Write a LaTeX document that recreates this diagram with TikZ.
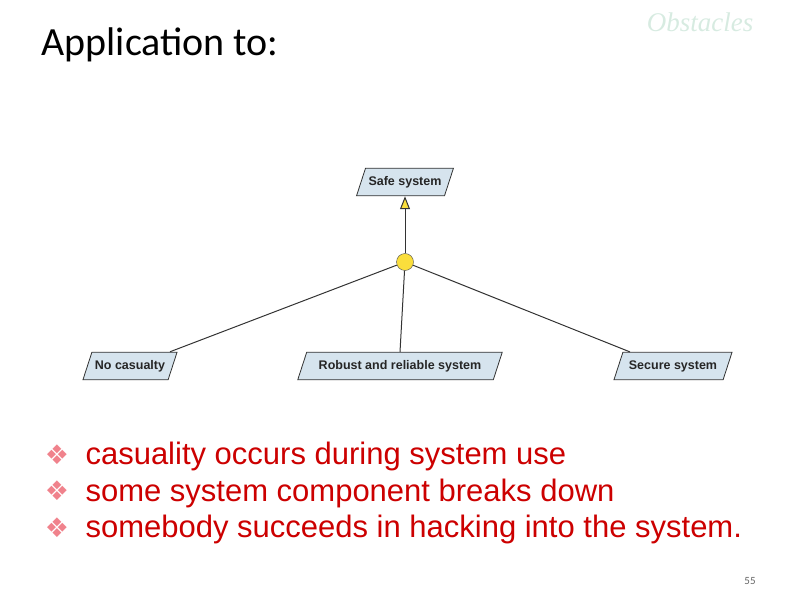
\documentclass[tikz,border=0pt]{standalone}
\usepackage{fontspec}
\setmainfont{Liberation Sans}
\newfontfamily\calibri{Carlito}
\newfontfamily\timesfont{Liberation Serif}
\newfontfamily\symfont{DejaVu Sans}
\usetikzlibrary{shapes.geometric,arrows.meta}
\definecolor{goalblue}{RGB}{214,228,238}
\definecolor{andyellow}{RGB}{250,222,60}
\definecolor{bulletred}{RGB}{204,0,0}
\definecolor{bulletpink}{RGB}{240,130,140}
\definecolor{paleteal}{RGB}{215,235,225}
\tikzset{
  goal/.style={trapezium, trapezium left angle=72, trapezium right angle=108,
    draw=black!80, fill=goalblue, thick, inner ysep=8pt, inner xsep=3pt,
    font=\fontsize{12.5}{14}\selectfont\bfseries, text=black!85},
  refine/.style={circle, draw=black!70, fill=andyellow, minimum size=17pt, inner sep=0pt},
  bullet/.style={anchor=west, text=bulletred, font=\fontsize{31}{34}\selectfont}
}
\begin{document}
\begin{tikzpicture}[x=1pt,y=-1pt]
  \useasboundingbox (0,0) rectangle (792,612);
  \node[anchor=west, font=\calibri\fontsize{40}{44}\selectfont] (title) at (38,45) {Application to:};
  \node[font=\timesfont\itshape\fontsize{27}{30}\selectfont, text=paleteal] (obst) at (700,22) {Obstacles};
  \node[goal] (safe) at (405,182) {Safe system};
  \node[refine] (and) at (405,262) {};
  \node[goal] (nocas) at (130,366) {No casualty};
  \node[goal, inner xsep=12pt] (robust) at (400,366) {Robust and reliable system};
  \node[goal, inner xsep=6pt] (secure) at (673,366) {Secure system};
  \draw[line width=1pt, black!80, -{Triangle[open, fill=andyellow, length=13pt, width=10pt]}] (and) -- (safe);
  \draw[line width=1pt, black!80] (nocas.north) ++(40pt,0) -- (and);
  \draw[line width=1pt, black!80] (robust.north) -- (and);
  \draw[line width=1pt, black!80] (secure.north) ++(-43pt,0) -- (and);
  \foreach \txt [count=\i] in {casuality occurs during system use,
      some system component breaks down,
      somebody succeeds in hacking into the system.}{
    \node[text=bulletpink, font=\symfont\fontsize{27}{30}\selectfont] (b\i) at (57,418+36.5*\i) {❖};
    \node[bullet] (t\i) at (82,420+36.5*\i) {\txt};
  }
  \node[font=\calibri\fontsize{11}{12}\selectfont, text=black!60] (page) at (750,581) {55};
\end{tikzpicture}
\end{document}
